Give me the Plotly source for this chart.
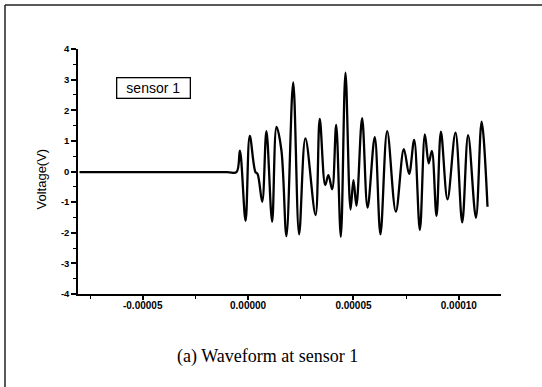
import plotly.graph_objects as go

# Recorded waveform turning points: time (s) and voltage (V)
time_s = [-8.0e-5, -1.0e-5, -0.55e-5, -0.39e-5, -0.12e-5, 0.08e-5, 0.35e-5, 0.45e-5,
          0.67e-5, 0.87e-5, 1.14e-5, 1.35e-5, 1.58e-5, 1.82e-5, 2.14e-5, 2.42e-5,
          2.72e-5, 3.20e-5, 3.40e-5, 3.66e-5, 3.81e-5, 3.99e-5, 4.18e-5, 4.40e-5,
          4.62e-5, 4.86e-5, 5.00e-5, 5.14e-5, 5.41e-5, 5.67e-5, 6.01e-5, 6.28e-5,
          6.60e-5, 7.01e-5, 7.39e-5, 7.64e-5, 7.88e-5, 8.15e-5, 8.39e-5, 8.57e-5,
          8.72e-5, 8.94e-5, 9.15e-5, 9.46e-5, 9.84e-5, 10.16e-5, 10.44e-5, 10.81e-5,
          11.08e-5, 11.36e-5]
voltage_v = [-0.02, -0.02, -0.02, 0.68, -1.61, 1.16, -0.02, -0.08,
             -0.99, 1.32, -1.64, 1.46, 0.70, -2.11, 2.91, -2.05,
             1.08, -1.42, 1.72, -0.44, -0.12, -0.58, 1.52, -2.13,
             3.23, -1.24, -0.28, -1.12, 1.74, -1.18, 1.12, -2.05,
             1.32, -1.31, 0.73, -0.08, 1.03, -1.91, 1.21, 0.27,
             0.67, -1.45, 1.30, -0.91, 1.27, -1.66, 1.19, -1.51,
             1.63, -1.15]

# Axis ticks
x_tick_vals = [-5e-5, 0.0, 5e-5, 1e-4]
x_tick_text = ["-0.00005", "0.00000", "0.00005", "0.00010"]
x_minor_vals = [-7.5e-5, -2.5e-5, 2.5e-5, 7.5e-5]
y_tick_vals = [-4, -3, -2, -1, 0, 1, 2, 3, 4]
y_tick_text = ["-4", "-3", "-2", "-1", "0", "1", "2", "3", "4"]

series_name = "sensor 1"
y_title = "Voltage(V)"
caption = "(a) Waveform at sensor 1"

W, H = 542, 387
ML, MR, MT, MB = 78, 41, 49, 93
PW, PH = W - ML - MR, H - MT - MB


def px_x(px):
    return (px - ML) / PW


def px_y(py):
    return (H - MB - py) / PH


fig = go.Figure()
fig.add_trace(go.Scatter(
    x=time_s, y=voltage_v, mode="lines", name=series_name,
    line=dict(color="black", width=2.3, shape="spline", smoothing=1.0),
    showlegend=False,
))

sans = "Liberation Sans, Arial, sans-serif"

fig.update_xaxes(
    range=[-8.07e-5, 1.2e-4], showgrid=False, zeroline=False,
    showline=True, linecolor="black", linewidth=1.5,
    ticks="outside", ticklen=4, tickwidth=1.5, tickcolor="black",
    tickvals=x_tick_vals, ticktext=x_tick_text, ticklabelstandoff=-3,
    tickfont=dict(family=sans, size=10, color="black", weight="bold"),
    minor=dict(tickvals=x_minor_vals, ticks="outside", ticklen=3, tickwidth=1.2, tickcolor="black"),
)
fig.update_yaxes(
    range=[-4, 4], showgrid=False, zeroline=False,
    showline=True, linecolor="black", linewidth=1.5,
    ticks="outside", ticklen=5, tickwidth=1.5, tickcolor="black",
    tickvals=y_tick_vals, ticktext=y_tick_text,
    tickfont=dict(family=sans, size=9.5, color="black", weight="bold"),
    minor=dict(dtick=0.5, ticks="outside", ticklen=3, tickwidth=1.2, tickcolor="black"),
)

# Outer frame of the figure panel (top and left edges)
frame = dict(color="#222222", width=1.5)
fig.add_shape(type="line", xref="paper", yref="paper",
              x0=px_x(5), x1=px_x(W + 2), y0=px_y(5), y1=px_y(5), line=frame)
fig.add_shape(type="line", xref="paper", yref="paper",
              x0=px_x(5), x1=px_x(5), y0=px_y(5), y1=px_y(H + 2), line=frame)

# Series label box
fig.add_annotation(
    xref="paper", yref="paper", x=px_x(153.5), y=px_y(88),
    text=series_name, showarrow=False, xanchor="center", yanchor="middle",
    font=dict(family=sans, size=14, color="black"),
    bordercolor="black", borderwidth=1.3, borderpad=0, width=72, height=19,
    bgcolor="white",
)

# Y axis title
fig.add_annotation(
    xref="paper", yref="paper", x=px_x(41.5), y=px_y(179),
    text=y_title, showarrow=False, textangle=-90,
    xanchor="center", yanchor="middle",
    font=dict(family=sans, size=13, color="black"),
)

# Caption
fig.add_annotation(
    xref="paper", yref="paper", x=px_x(267.5), y=px_y(356),
    text=caption, showarrow=False, xanchor="center", yanchor="middle",
    font=dict(family="Liberation Serif, Times New Roman, serif", size=18, color="black"),
)

fig.update_layout(
    width=W, height=H, autosize=False,
    margin=dict(l=ML, r=MR, t=MT, b=MB),
    paper_bgcolor="white", plot_bgcolor="white",
)

fig.write_html("out.html")
